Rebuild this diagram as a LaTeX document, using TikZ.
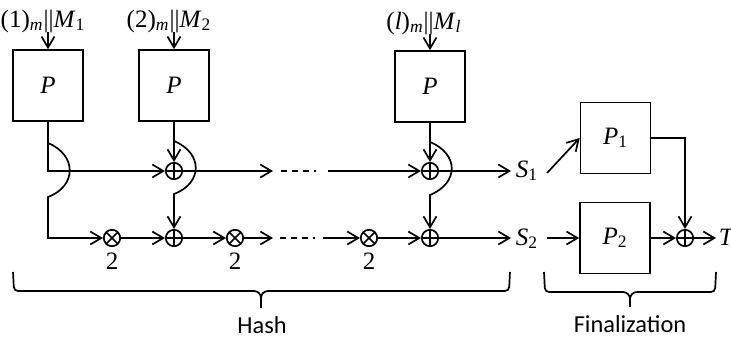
\documentclass[tikz,border=0pt]{standalone}
\usepackage{fontspec}
\setmainfont{Liberation Serif}
\newfontfamily\capfont{Carlito}
\usetikzlibrary{arrows.meta,calc}
\begin{document}
\begin{tikzpicture}[x=0.5pt,y=-0.5pt,
  line width=0.85pt,
  every node/.style={font=\fontsize{12.5}{14}\selectfont},
  arr/.style={-{Straight Barb[length=5.5pt,width=6.5pt]}},
  pbox/.style={draw,minimum width=35pt,minimum height=35.5pt,inner sep=0pt},
  xorn/.style={circle,draw,minimum size=8.2pt,inner sep=0pt,
     path picture={\draw (path picture bounding box.north) -- (path picture bounding box.south)
       (path picture bounding box.west) -- (path picture bounding box.east);}},
  muln/.style={circle,draw,minimum size=8.2pt,inner sep=0pt,
     path picture={\draw (path picture bounding box.north west) -- (path picture bounding box.south east)
       (path picture bounding box.north east) -- (path picture bounding box.south west);}},
  lbl/.style={inner sep=0pt,anchor=base},
  slbl/.style={anchor=base west,inner xsep=2pt,inner ysep=0pt},
  bracepath/.style={rounded corners=2pt},
  captxt/.style={font=\capfont\fontsize{12.2}{14}\selectfont},
  dashdot/.style={dash pattern=on 3pt off 2.5pt on 3pt off 2.5pt on 3pt off 2.5pt on 1pt off 3pt}
]
\useasboundingbox (0,0) rectangle (731,339);

% permutation boxes
\node[pbox] (b1) at (48,85.5) {\textit{P}};
\node[pbox] (b2) at (174,85.5) {\textit{P}};
\node[pbox] (bl) at (430,86.5) {\textit{P}};
\node[pbox] (p1) at (615.5,138) {\textit{P}\textsubscript{1}};
\node[pbox] (p2) at (615,238) {\textit{P}\textsubscript{2}};

% input labels
\node[lbl] (l1) at (43,27) {(1)\textsubscript{\textit{m}}||\textit{M}\textsubscript{1}};
\node[lbl] (l2) at (169,27) {(2)\textsubscript{\textit{m}}||\textit{M}\textsubscript{2}};
\node[lbl] (ll) at (424,29) {(\textit{l})\textsubscript{\textit{m}}||\textit{M}\textsubscript{\textit{l}}};
\coordinate (i1) at (48,32);
\coordinate (i2) at (174,32);
\coordinate (il) at (430,34);
\draw[arr] (i1) -- (b1.north);
\draw[arr] (i2) -- (b2.north);
\draw[arr] (il) -- (bl.north);

% operators
\node[xorn] (op1) at (174,171) {};
\node[xorn] (opl) at (430,171) {};
\node[muln] (ot1) at (112,238) {};
\node[xorn] (op2) at (174,238) {};
\node[muln] (ot2) at (235,238) {};
\node[muln] (ot3) at (369,238) {};
\node[xorn] (op2l) at (430,238) {};
\node[xorn] (opT) at (685,238) {};

\node (n1) at (112,261) {2};
\node (n2) at (235,261) {2};
\node (n3) at (369,261) {2};

% outputs
\node[slbl] (s1) at (511,177) {\textit{S}\textsubscript{1}};
\node[slbl] (s2) at (511,245) {\textit{S}\textsubscript{2}};
\node[anchor=base west,inner xsep=1pt,inner ysep=0pt] (t) at (716,245) {\textit{T}};

% first column
\draw[arr] (b1.south) |- (op1.west);
\coordinate (h1a) at (48,143);
\coordinate (h1b) at (48,197);
\draw[arr] (h1a) .. controls (77,155) and (77,186) .. (h1b) |- (ot1.west);

% second column
\draw[arr] (b2.south) -- (op1.north);
\coordinate (h2a) at (174,141);
\coordinate (h2b) at (174,194);
\draw[arr] (h2a) .. controls (203,153) and (203,183) .. (h2b) -- (op2.north);

% last column
\draw[arr] (bl.south) -- (opl.north);
\coordinate (hla) at (430,142);
\coordinate (hlb) at (430,195);
\draw[arr] (hla) .. controls (459,154) and (459,183) .. (hlb) -- (op2l.north);

% upper line
\coordinate (d1a) at (273,171);
\coordinate (d1b) at (281,171);
\coordinate (d1c) at (318,171);
\coordinate (d1d) at (328,171);
\draw[arr] (op1.east) -- (d1a);
\draw[dashdot] (d1b) -- (d1c);
\draw[arr] (d1d) -- (opl.west);
\draw[arr] (opl.east) -- (opl.east -| s1.west);

% lower line
\draw[arr] (ot1.east) -- (op2.west);
\draw[arr] (op2.east) -- (ot2.west);
\coordinate (d2a) at (273,238);
\coordinate (d2b) at (280,238);
\coordinate (d2c) at (317,238);
\coordinate (d2d) at (323,238);
\draw[arr] (ot2.east) -- (d2a);
\draw[dashdot] (d2b) -- (d2c);
\draw[arr] (d2d) -- (ot3.west);
\draw[arr] (ot3.east) -- (op2l.west);
\draw[arr] (op2l.east) -- (op2l.east -| s2.west);

% finalization
\coordinate (s1o) at (547,173);
\coordinate (s2o) at (547,238);
\draw[arr] (s1o) -- (p1.west);
\draw[arr] (s2o) -- (p2.west);
\draw[arr] (p1.east) -| (opT.north);
\draw[arr] (p2.east) -- (opT.west);
\draw[arr] (opT.east) -- (opT.east -| t.west);

% braces
\draw[bracepath] (13,272) -- (14,291) -- (254,291);
\draw (254,291) to[out=0,in=90] (261,298) -- (261,308);
\draw (268,291) to[out=180,in=90] (261,298);
\draw[bracepath] (510,272) -- (509,291) -- (268,291);

\draw[bracepath] (544,272) -- (545,292) -- (623,292);
\draw (623,292) to[out=0,in=90] (630,299) -- (630,307);
\draw (637,292) to[out=180,in=90] (630,299);
\draw[bracepath] (716,272) -- (715,292) -- (637,292);

\node[captxt] (hash) at (262,325) {Hash};
\node[captxt] (fin) at (630,324) {Finalization};
\end{tikzpicture}
\end{document}
